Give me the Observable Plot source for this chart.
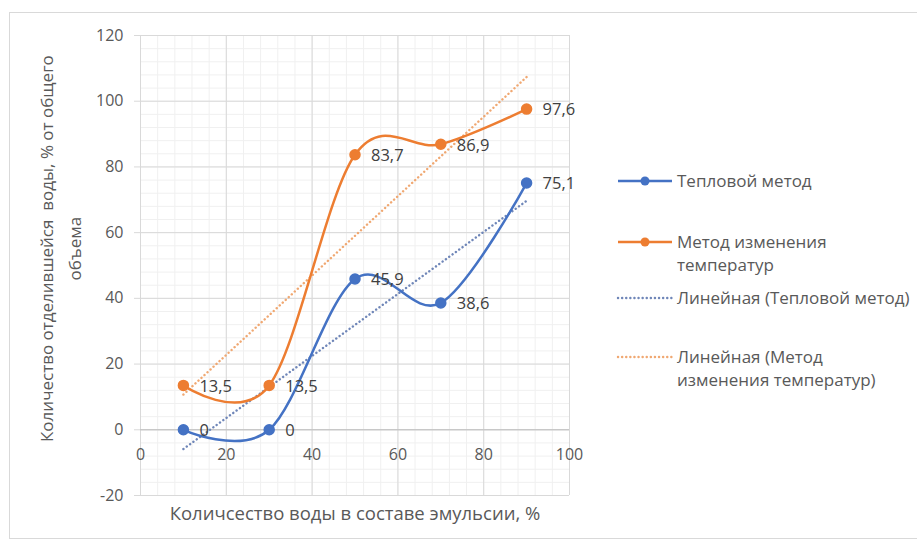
<!DOCTYPE html>
<html>
<head>
<meta charset="utf-8">
<script src="https://cdn.jsdelivr.net/npm/d3@7"></script>
<script src="https://cdn.jsdelivr.net/npm/@observablehq/plot@0.6"></script>
<style>
  html, body { margin: 0; padding: 0; background: #fff; }
  #wrap { position: relative; width: 917px; height: 542px; font-family: "Open Sans", sans-serif; color: #595959; overflow: hidden; }
  #border { position: absolute; left: 9px; top: 12px; width: 910px; height: 527px; border: 1px solid #d9d9d9; box-sizing: border-box; }
  #chart { position: absolute; left: 0; top: 0; }
  .ytitle { position: absolute; left: 0; top: 0; transform-origin: 0 0; white-space: nowrap; text-align: center; font-size: 17px; line-height: 28px; }
  .xtitle { position: absolute; font-size: 18.5px; white-space: nowrap; transform: translate(-50%, -50%); }
  .leg { position: absolute; font-size: 17px; line-height: 23px; white-space: nowrap; }
  .legsw { position: absolute; }
</style>
</head>
<body>
<div id="wrap">
  <div id="border"></div>
  <div id="chart"></div>
</div>
<script>
// ---- data ----
const xValues = [10, 30, 50, 70, 90];
const thermal = [0, 0, 45.9, 38.6, 75.1];
const tempChange = [13.5, 13.5, 83.7, 86.9, 97.6];
const seriesNames = ["Тепловой метод", "Метод изменения температур"];
const trendNames = ["Линейная (Тепловой метод)", "Линейная (Метод изменения температур)"];
const xTicks = [0, 20, 40, 60, 80, 100];
const yTicks = [-20, 0, 20, 40, 60, 80, 100, 120];
const minorX = d3.range(0, 101, 4);
const minorY = d3.range(-20, 121, 4);
const xTitle = "Количсество воды в составе эмульсии, %";
const yTitle = ["Количество отделившейся  воды, % от общего", "объема"];

const colors = ["#4472C4", "#ED7D31"];
const trendColors = ["#6f86b8", "#f0a872"];

const rows = [];
xValues.forEach((x, i) => {
  rows.push({ s: 0, x, y: thermal[i] });
  rows.push({ s: 1, x, y: tempChange[i] });
});
const fmt = v => String(v).replace(".", ",");

const W = 917, H = 542;
const mL = 140, mR = W - 569, mT = 35, mB = H - 495;
const dots = "0.1,4";

const plot = Plot.plot({
  width: W, height: H,
  marginLeft: mL, marginRight: mR, marginTop: mT, marginBottom: mB,
  style: { fontFamily: "Open Sans, sans-serif", fontSize: "16px", color: "#595959", background: "transparent", overflow: "visible" },
  x: { domain: [0, 100], axis: null },
  y: { domain: [-20, 120], axis: null },
  marks: [
    Plot.ruleX(minorX, { stroke: "#f0f0f0", strokeWidth: 1 }),
    Plot.ruleY(minorY, { stroke: "#f0f0f0", strokeWidth: 1 }),
    Plot.ruleX(xTicks, { stroke: "#d9d9d9", strokeWidth: 1 }),
    Plot.ruleY(yTicks, { stroke: "#d9d9d9", strokeWidth: 1 }),
    Plot.ruleY([0], { stroke: "#bfbfbf", strokeWidth: 1 }),
    Plot.axisY(yTicks, { anchor: "left", tickSize: 6, tickPadding: 11, stroke: "#d9d9d9", fill: "#595959", fontSize: 16, label: null, tickFormat: d => String(d) }),
    Plot.text(xTicks, { x: d => d, y: 0, dy: 25, text: d => String(d), fill: "#595959", fontSize: 16 }),
    // linear trends
    ...[0, 1].map(s => Plot.linearRegressionY(rows.filter(r => r.s === s), {
      x: "x", y: "y", ci: 0, stroke: trendColors[s], strokeWidth: 2.4,
      strokeDasharray: dots, strokeLinecap: "round"
    })),
    // smoothed series
    ...[0, 1].map(s => Plot.line(rows.filter(r => r.s === s), {
      x: "x", y: "y", curve: "cardinal", stroke: colors[s], strokeWidth: 2.5
    })),
    ...[0, 1].map(s => Plot.dot(rows.filter(r => r.s === s), {
      x: "x", y: "y", r: 5, fill: colors[s], stroke: colors[s]
    })),
    ...[0, 1].map(s => Plot.text(rows.filter(r => r.s === s), {
      x: "x", y: "y", text: d => fmt(d.y), dx: 16, dy: 1, textAnchor: "start", fill: "#404040", fontSize: 16.5
    }))
  ]
});
document.getElementById("chart").appendChild(plot);

const wrap = document.getElementById("wrap");

// Y title (rotated, two lines)
const yt = document.createElement("div");
yt.className = "ytitle";
yt.innerHTML = yTitle.map(t => `<div>${t.replace(/  /g, "&nbsp; ")}</div>`).join("");
wrap.appendChild(yt);
const yw = yt.offsetWidth, yh = yt.offsetHeight;
const ycx = 61, ycy = 248;
yt.style.left = (ycx - yh / 2) + "px";
yt.style.top = (ycy + yw / 2) + "px";
yt.style.transform = "rotate(-90deg)";

// X title
const xt = document.createElement("div");
xt.className = "xtitle";
xt.textContent = xTitle;
xt.style.left = "355px";
xt.style.top = "512px";
wrap.appendChild(xt);

// Legend
const legendItems = [
  { label: [seriesNames[0]], y: 181, color: colors[0], dotted: false },
  { label: ["Метод изменения", "температур"], y: 242, color: colors[1], dotted: false },
  { label: [trendNames[0]], y: 298, color: trendColors[0], dotted: true },
  { label: ["Линейная (Метод", "изменения температур)"], y: 357, color: trendColors[1], dotted: true }
];
legendItems.forEach(it => {
  const sw = document.createElementNS("http://www.w3.org/2000/svg", "svg");
  sw.setAttribute("width", 60); sw.setAttribute("height", 12);
  sw.setAttribute("class", "legsw");
  sw.style.left = "615px"; sw.style.top = (it.y - 6) + "px";
  const ln = document.createElementNS("http://www.w3.org/2000/svg", "line");
  ln.setAttribute("x1", 3); ln.setAttribute("x2", 57); ln.setAttribute("y1", 6); ln.setAttribute("y2", 6);
  ln.setAttribute("stroke", it.color);
  ln.setAttribute("stroke-width", it.dotted ? 2.4 : 2.5);
  if (it.dotted) { ln.setAttribute("stroke-dasharray", dots); ln.setAttribute("stroke-linecap", "round"); }
  sw.appendChild(ln);
  if (!it.dotted) {
    const c = document.createElementNS("http://www.w3.org/2000/svg", "circle");
    c.setAttribute("cx", 30); c.setAttribute("cy", 6); c.setAttribute("r", 4.5); c.setAttribute("fill", it.color);
    sw.appendChild(c);
  }
  wrap.appendChild(sw);
  const d = document.createElement("div");
  d.className = "leg";
  d.innerHTML = it.label.join("<br>");
  d.style.left = "677px";
  d.style.top = (it.y - 12) + "px";
  wrap.appendChild(d);
});
</script>
</body>
</html>
